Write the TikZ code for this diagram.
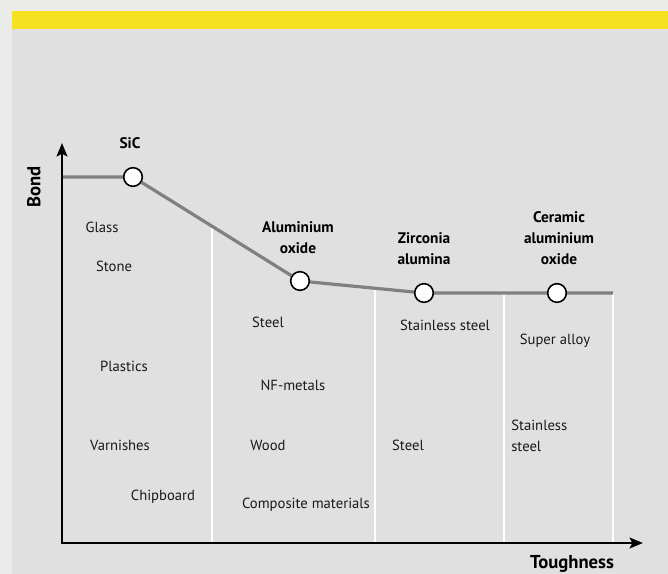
\documentclass[tikz,border=0pt]{standalone}
\usepackage{fontspec}
\setmainfont{PT Sans}
\usetikzlibrary{arrows.meta}
\definecolor{outerbg}{HTML}{EBEBEA}
\definecolor{panelbg}{HTML}{E0E0E0}
\definecolor{bandyellow}{HTML}{F5E11F}
\definecolor{curvegray}{HTML}{808080}
\tikzset{
  lbl/.style={font=\fontsize{11}{12}\selectfont, text=black!90, inner sep=0pt},
  blbl/.style={font=\fontsize{11.5}{15.75}\selectfont\bfseries, align=center, inner sep=0pt},
  axlbl/.style={font=\fontsize{14}{16}\selectfont\bfseries, inner sep=0pt},
  circ/.style={circle, draw=black, line width=1.2pt, fill=white, minimum size=14pt, inner sep=0pt},
  curveline/.style={draw=curvegray, line width=2.4pt},
  divider/.style={draw=white, line width=1pt},
  axisline/.style={draw=black, line width=2.2pt, line join=miter, {Stealth[length=10pt,width=8pt,inset=2pt]}-{Stealth[length=10pt,width=8pt,inset=2pt]}},
}
\begin{document}
\begin{tikzpicture}[x=0.75pt,y=-0.75pt]
\useasboundingbox (0,0) rectangle (668,574);
\fill[outerbg] (0,0) rectangle (668,574);
\fill[panelbg] (12,29) rectangle (668,574);
\fill[bandyellow] (12,11) rectangle (668,29);
% dividers
\coordinate (d1t) at (212,226); \coordinate (d1b) at (212,543);
\coordinate (d2t) at (375,288); \coordinate (d2b) at (375,543);
\coordinate (d3t) at (504,293); \coordinate (d3b) at (504,543);
\coordinate (d4t) at (613,293); \coordinate (d4b) at (613,543);
\draw[divider] (d1t) -- (d1b);
\draw[divider] (d2t) -- (d2b);
\draw[divider] (d3t) -- (d3b);
\draw[divider] (d4t) -- (d4b);
% curve
\coordinate (cstart) at (62,177);
\coordinate (cend) at (613,293);
\node[circ] (sic) at (133,177) {};
\node[circ] (alu) at (300,281) {};
\node[circ] (zir) at (424,293) {};
\node[circ] (cer) at (557,293) {};
\draw[curveline] (cstart) -- (sic) -- (alu) -- (zir) -- (cer) -- (cend);
% axes
\coordinate (ytip) at (62,143);
\coordinate (origin) at (62,543);
\coordinate (xtip) at (643,543);
\draw[axisline] (ytip) -- (origin) -- (xtip);
\node[axlbl, rotate=90] (bond) at (34,187) {Bond};
\node[axlbl] (tough) at (572,564) {Toughness};
% material names
\node[blbl] (lsic) at (130,143) {SiC};
\node[blbl] (lalu) at (298,238) {Aluminium\\oxide};
\node[blbl] (lzir) at (424,249) {Zirconia\\alumina};
\node[blbl] (lcer) at (559,238) {Ceramic\\aluminium\\oxide};
% column 1
\node[lbl] (glass) at (102,227) {Glass};
\node[lbl] (stone) at (114,266) {Stone};
\node[lbl] (plastics) at (124,366) {Plastics};
\node[lbl] (varn) at (120,445) {Varnishes};
\node[lbl] (chip) at (163,497) {Chipboard};
% column 2
\node[lbl] (steel2) at (268,322) {Steel};
\node[lbl] (nf) at (293,385) {NF-metals};
\node[lbl] (wood) at (268,445) {Wood};
\node[lbl] (comp) at (306,505) {Composite materials};
% column 3
\node[lbl] (ss3) at (445,325) {Stainless steel};
\node[lbl] (steel3) at (408,445) {Steel};
% column 4
\node[lbl] (sup) at (555,341) {Super alloy};
\node[lbl, anchor=west, align=left, font=\fontsize{11}{15.75}\selectfont] (ss4) at (511,436) {Stainless\\steel};
\end{tikzpicture}
\end{document}
